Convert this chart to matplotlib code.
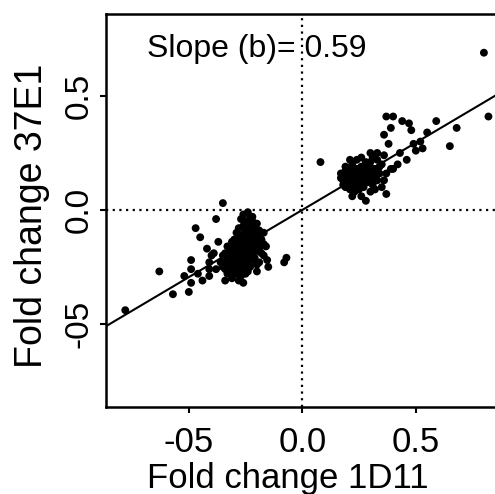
import matplotlib
matplotlib.use("Agg")
import matplotlib.pyplot as plt

# ---- data: (1D11 fold change, 37E1 fold change) ----
neg_points = [
    (-0.26, -0.02), (-0.24, -0.01),
    (-0.27, -0.04), (-0.25, -0.05), (-0.23, -0.03),
    (-0.26, -0.07), (-0.24, -0.06), (-0.22, -0.05), (-0.20, -0.06),
    (-0.28, -0.08), (-0.25, -0.09), (-0.23, -0.08), (-0.21, -0.08), (-0.19, -0.09),
    (-0.29, -0.10), (-0.27, -0.11), (-0.25, -0.10), (-0.23, -0.11), (-0.21, -0.10),
    (-0.19, -0.11), (-0.17, -0.10),
    (-0.30, -0.13), (-0.28, -0.12), (-0.26, -0.13), (-0.24, -0.12), (-0.22, -0.13),
    (-0.20, -0.12), (-0.18, -0.13),
    (-0.31, -0.14), (-0.29, -0.15), (-0.27, -0.14), (-0.25, -0.15), (-0.23, -0.14),
    (-0.21, -0.15), (-0.19, -0.14), (-0.17, -0.15),
    (-0.33, -0.16), (-0.31, -0.17), (-0.29, -0.16), (-0.27, -0.17), (-0.25, -0.16),
    (-0.23, -0.17), (-0.21, -0.16), (-0.19, -0.17), (-0.16, -0.16),
    (-0.34, -0.19), (-0.32, -0.18), (-0.30, -0.19), (-0.28, -0.18), (-0.26, -0.19),
    (-0.24, -0.18), (-0.22, -0.19), (-0.20, -0.18), (-0.18, -0.19),
    (-0.35, -0.20), (-0.33, -0.21), (-0.31, -0.20), (-0.29, -0.21), (-0.27, -0.20),
    (-0.25, -0.21), (-0.23, -0.20), (-0.21, -0.21), (-0.17, -0.20),
    (-0.36, -0.23), (-0.34, -0.22), (-0.32, -0.23), (-0.30, -0.22), (-0.28, -0.23),
    (-0.26, -0.22), (-0.24, -0.23), (-0.22, -0.22), (-0.19, -0.23),
    (-0.35, -0.25), (-0.33, -0.24), (-0.31, -0.25), (-0.29, -0.24), (-0.27, -0.25),
    (-0.25, -0.24), (-0.23, -0.25), (-0.20, -0.24),
    (-0.34, -0.26), (-0.32, -0.27), (-0.30, -0.26), (-0.28, -0.27), (-0.26, -0.26),
    (-0.24, -0.27),
    (-0.33, -0.28), (-0.31, -0.29), (-0.29, -0.28), (-0.27, -0.29), (-0.25, -0.28),
    (-0.31, -0.30), (-0.28, -0.31),
    # scattered points around the lower cluster
    (-0.35, 0.03), (-0.38, -0.04), (-0.47, -0.08), (-0.45, -0.12), (-0.34, -0.31),
    (-0.26, -0.32), (-0.08, -0.23), (-0.07, -0.21), (-0.155, -0.22), (-0.49, -0.22),
    (-0.49, -0.26), (-0.46, -0.28), (-0.49, -0.32), (-0.42, -0.17), (-0.40, -0.20),
    (-0.41, -0.23), (-0.39, -0.19), (-0.63, -0.27), (-0.57, -0.37), (-0.50, -0.36),
    (-0.52, -0.29), (-0.41, -0.29), (-0.41, -0.26), (-0.78, -0.44), (-0.44, -0.31),
    (-0.38, -0.26), (-0.37, -0.14), (-0.15, -0.25), (-0.20, -0.27), (-0.22, -0.03),
]

pos_points = [
    (0.18, 0.13), (0.19, 0.15), (0.20, 0.12), (0.21, 0.17), (0.22, 0.14),
    (0.23, 0.11), (0.24, 0.16), (0.25, 0.13), (0.26, 0.19), (0.27, 0.15),
    (0.28, 0.12), (0.29, 0.17), (0.30, 0.21), (0.31, 0.14), (0.32, 0.18),
    (0.33, 0.22), (0.34, 0.16), (0.35, 0.20), (0.36, 0.24), (0.20, 0.18),
    (0.22, 0.20), (0.24, 0.22), (0.26, 0.23), (0.28, 0.21), (0.30, 0.25),
    (0.19, 0.10), (0.21, 0.09), (0.23, 0.08), (0.25, 0.09), (0.27, 0.10),
    (0.17, 0.14), (0.18, 0.11), (0.20, 0.15), (0.22, 0.13), (0.24, 0.14),
    (0.26, 0.12), (0.23, 0.17), (0.25, 0.18), (0.27, 0.19), (0.29, 0.14),
    (0.31, 0.11), (0.33, 0.13), (0.32, 0.09), (0.30, 0.08), (0.22, 0.06),
    (0.26, 0.06), (0.28, 0.04), (0.37, 0.07), (0.35, 0.10), (0.36, 0.13),
    (0.37, 0.16), (0.39, 0.18), (0.38, 0.29), (0.36, 0.33), (0.39, 0.36),
    (0.37, 0.41), (0.40, 0.41), (0.44, 0.39), (0.47, 0.38), (0.48, 0.35),
    (0.43, 0.25), (0.46, 0.22), (0.42, 0.20), (0.40, 0.18), (0.49, 0.29),
    (0.50, 0.26), (0.53, 0.27), (0.55, 0.34), (0.59, 0.39), (0.68, 0.36),
    (0.65, 0.28), (0.82, 0.41), (0.80, 0.69), (0.08, 0.21), (0.52, 0.30),
    (0.19, 0.19), (0.21, 0.22), (0.17, 0.16), (0.24, 0.11), (0.29, 0.20),
    (0.19, 0.12), (0.20, 0.14), (0.21, 0.13), (0.21, 0.15), (0.22, 0.16),
    (0.23, 0.14), (0.23, 0.15), (0.24, 0.12), (0.24, 0.18), (0.25, 0.15),
    (0.25, 0.16), (0.26, 0.15), (0.26, 0.17), (0.27, 0.13), (0.28, 0.16),
    (0.28, 0.18), (0.29, 0.19), (0.30, 0.16), (0.31, 0.18), (0.20, 0.11),
    (0.18, 0.16), (0.19, 0.17), (0.22, 0.11), (0.27, 0.17), (0.30, 0.12),
    (0.32, 0.15), (0.34, 0.19), (0.33, 0.25), (0.31, 0.23),
]

slope = 0.59
intercept = 0.0
x_ticks = [-0.5, 0.0, 0.5]
x_tick_labels = ["-05", "0.0", "0.5"]
y_ticks = [-0.5, 0.0, 0.5]
y_tick_labels = ["-05", "0.0", "0.5"]
x_label = "Fold change 1D11"
y_label = "Fold change 37E1"
annot = "Slope (b)= 0.59"

FONT = "Liberation Sans"

# ---- figure ----
fig = plt.figure(figsize=(4.95, 4.94), dpi=100)
ax = fig.add_axes([0.2141, 0.1761, 0.791, 0.7956])

pts = neg_points + pos_points
fx = [p[0] for p in pts]
fy = [p[1] for p in pts]
ax.scatter(fx, fy, s=32, c="black", edgecolors="none", zorder=3)

ax.axline((0, intercept), slope=slope, color="black", lw=1.5, zorder=2)
ax.axhline(0, color="black", lw=1.6, linestyle=(0, (1, 2)), zorder=1)
ax.axvline(0, color="black", lw=1.6, linestyle=(0, (1, 2)), zorder=1)

ax.set_xlim(-0.865, 0.86)
ax.set_ylim(-0.865, 0.86)

for s in ["left", "bottom", "top"]:
    ax.spines[s].set_linewidth(1.8)
ax.spines["right"].set_visible(False)

ax.set_xticks(x_ticks)
ax.set_xticklabels(x_tick_labels, fontfamily=FONT, fontsize=25)
ax.set_yticks(y_ticks)
ax.set_yticklabels(y_tick_labels, fontfamily=FONT, fontsize=24,
                   rotation=90, va="center")
ax.tick_params(axis="both", direction="out", length=4, width=1.5)
ax.tick_params(axis="x", pad=10)
ax.tick_params(axis="y", pad=4)

ax.set_xlabel(x_label, fontfamily=FONT, fontsize=25)
ax.xaxis.label.set_va("baseline")
ax.xaxis.set_label_coords(0.4635, -0.205)
ax.set_ylabel(y_label, fontfamily=FONT, fontsize=27)
ax.yaxis.label.set_va("baseline")
ax.yaxis.set_label_coords(-0.1634, 0.486)

ax.text(-0.683, 0.671, annot, fontfamily=FONT, fontsize=23,
        ha="left", va="baseline", zorder=4)

fig.savefig("out.png", dpi=100)
